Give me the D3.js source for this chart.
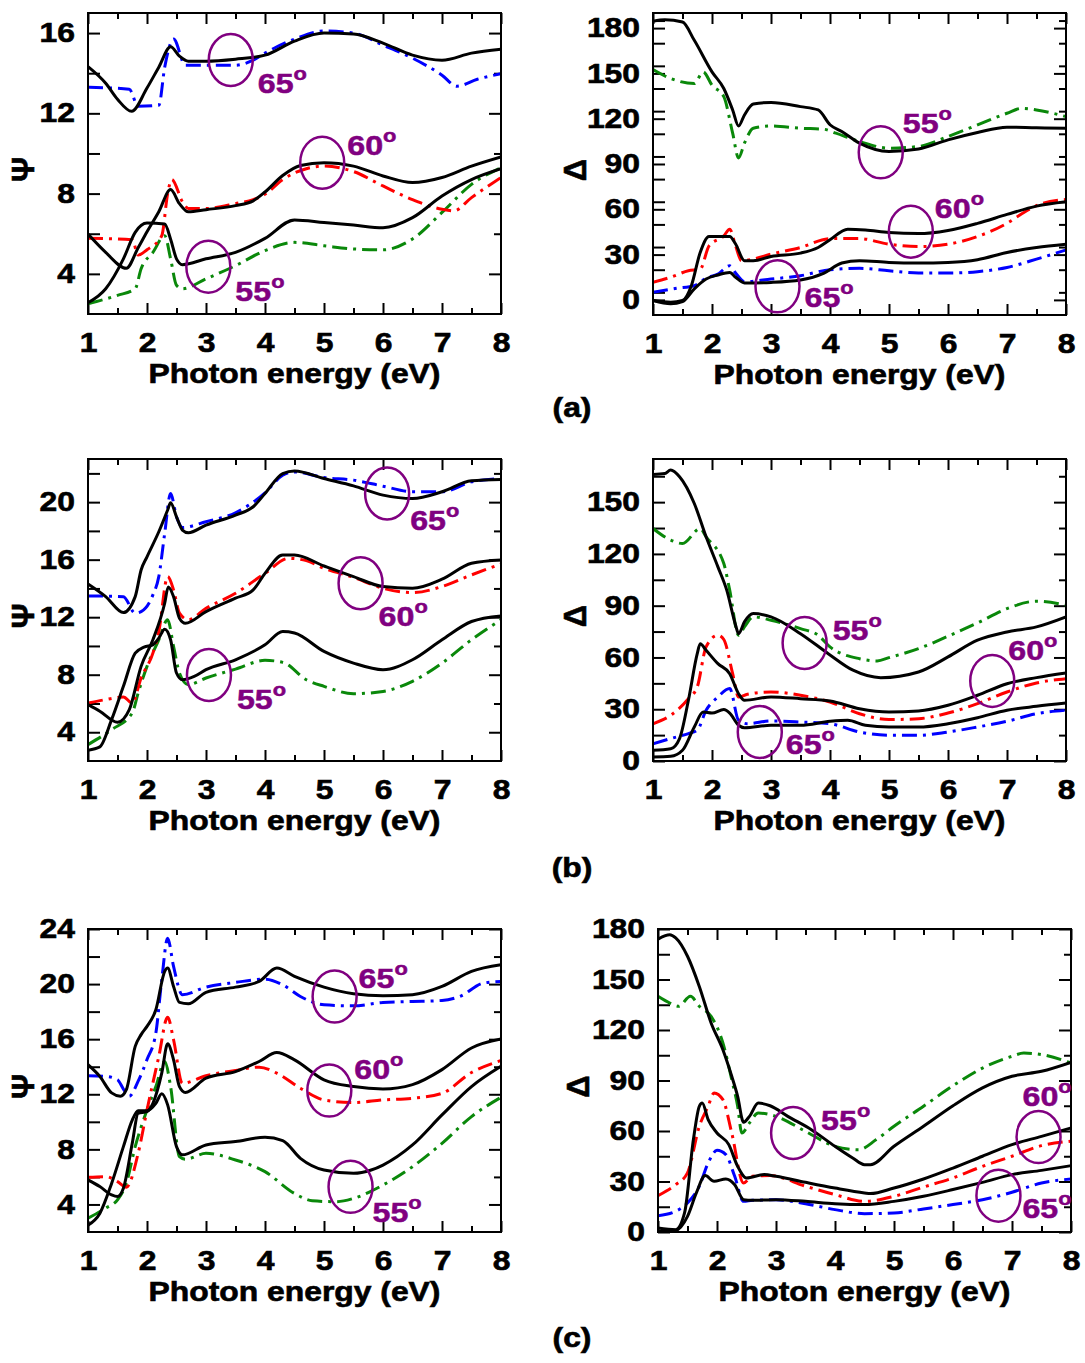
<!DOCTYPE html>
<html>
<head>
  <title>Ellipsometry Psi and Delta spectra</title>
  <script src="https://d3js.org/d3.v7.min.js"></script>
  <style>
    body { margin: 0; background: #fff; }
    text { font-family: "Liberation Sans", Arial, sans-serif; font-weight: bold; }
  </style>
</head>
<body>

<div id="chart"></div>

<script>
// Photon energy axis
const energyTicks = [1, 2, 3, 4, 5, 6, 7, 8];
const energyMinor = [1.5, 2.5, 3.5, 4.5, 5.5, 6.5, 7.5];

// y tick labels
const psiTicksA = [4, 8, 12, 16];
const psiTicksB = [4, 8, 12, 16, 20];
const psiTicksC = [4, 8, 12, 16, 20, 24];
const deltaTicksA = [0, 30, 60, 90, 120, 150, 180];
const deltaTicksB = [0, 30, 60, 90, 120, 150];
const deltaTicksC = [0, 30, 60, 90, 120, 150, 180];

// ---- (a) Psi, [energy eV, degrees]
const psiA_meas65 = [[1,14.33],[1.3,13.5],[1.5,12.7],[1.74,12.1],[2,13.26],[2.2,14.3],[2.4,15.32],[2.55,14.85],[2.7,14.6],[3,14.6],[3.5,14.7],[4,14.9],[4.5,15.6],[5,16.0],[5.5,15.95],[6,15.5],[6.5,14.9],[7,14.65],[7.5,15.0],[8,15.2]];
const psiA_fit65 = [[1,13.3],[1.7,13.2],[1.85,12.35],[2.2,12.4],[2.3,14.3],[2.45,15.7],[2.65,14.4],[3.5,14.4],[3.8,14.65],[4,15.0],[4.5,15.7],[5,16.1],[5.5,16.0],[6,15.4],[6.5,14.75],[7,13.9],[7.25,13.35],[7.6,13.7],[8,13.97]];
const psiA_meas60 = [[1,5.98],[1.3,5.07],[1.65,4.28],[1.85,5.3],[2,6.1],[2.2,7.1],[2.4,8.2],[2.55,7.5],[2.7,7.09],[3,7.2],[3.5,7.4],[3.8,7.64],[4,8.08],[4.3,8.9],[4.6,9.4],[5,9.54],[5.5,9.37],[6,8.88],[6.5,8.55],[7,8.8],[7.5,9.37],[8,9.83]];
const psiA_fit60 = [[1,5.77],[1.75,5.7],[1.85,4.94],[2.0,5.2],[2.25,5.9],[2.35,8.0],[2.42,8.7],[2.6,7.6],[2.7,7.26],[3,7.26],[3.5,7.5],[3.8,7.7],[4,7.97],[4.3,8.7],[4.7,9.24],[5,9.37],[5.5,9.1],[6,8.38],[6.5,7.7],[7,7.22],[7.2,7.14],[7.5,7.8],[8,8.8]];
const psiA_meas55 = [[1,2.56],[1.3,3.26],[1.6,4.75],[1.8,6.07],[2.0,6.53],[2.3,6.48],[2.4,5.73],[2.5,4.75],[2.6,4.46],[3,4.75],[3.5,5.07],[4,5.77],[4.5,6.69],[5,6.56],[5.5,6.43],[6,6.3],[6.5,6.8],[7,7.88],[7.5,8.7],[8,9.24]];
const psiA_fit55 = [[1,2.51],[1.5,2.93],[1.8,3.26],[1.9,4.25],[2.1,5.07],[2.3,5.9],[2.4,4.75],[2.5,3.43],[2.6,3.26],[3,3.75],[3.5,4.41],[4,5.16],[4.5,5.57],[5,5.4],[5.5,5.24],[6,5.2],[6.5,5.74],[7,7.06],[7.5,8.46],[8,9.29]];

// ---- (a) Delta
const delA_meas55 = [[1,184.6],[1.2,185.5],[1.5,184],[1.7,171.9],[2,151],[2.2,140],[2.35,125.8],[2.45,115.2],[2.55,122.5],[2.7,129.7],[3,130.8],[3.5,128],[3.8,125.8],[4,116],[4.2,111.5],[4.5,103.8],[5,98.3],[5.5,99.9],[6,106],[6.5,110.9],[7,114.4],[7.5,114],[8,113.7]];
const delA_fit55 = [[1,152.6],[1.3,146.6],[1.7,143.3],[1.85,151],[2.0,142.2],[2.2,134.6],[2.35,110.4],[2.45,94],[2.55,103.8],[2.7,113.7],[3,115.2],[3.5,113.7],[3.9,113],[4.1,110.4],[4.5,104.9],[5,100.5],[5.5,101.6],[6,108.2],[6.5,115.9],[7,123.6],[7.25,126.9],[7.5,125.8],[8,121.4]];
const delA_meas60 = [[1,-0.4],[1.3,-1.5],[1.5,-0.4],[1.65,9.4],[1.8,31.4],[1.95,42],[2.3,42],[2.4,37],[2.55,26],[2.7,26],[3,28.8],[3.5,31],[3.8,34.7],[4,39.8],[4.3,46.8],[4.6,46.3],[5,44.6],[5.5,43.9],[6,46],[6.5,50.7],[7,56.6],[7.5,62.1],[8,65]];
const delA_fit60 = [[1,11.6],[1.3,15],[1.6,19.3],[1.8,20.4],[1.95,35.8],[2.2,42.4],[2.3,46.8],[2.4,35.8],[2.5,26],[2.7,27.1],[3,30.3],[3.5,34.7],[4,40.6],[4.5,40.6],[5,36.9],[5.5,35.3],[6,36.9],[6.5,42],[7,50.7],[7.3,58.2],[7.6,63.9],[8,66.5]];
const delA_meas65 = [[1,-0.4],[1.3,-2.6],[1.5,-1.1],[1.7,7.3],[1.9,13.8],[2.1,16.5],[2.3,18.2],[2.4,15],[2.55,11.2],[3,11.6],[3.5,13.2],[3.9,17.8],[4.2,24.4],[4.5,26],[5,24.8],[5.5,24.4],[6,24.8],[6.5,26.6],[7,31.4],[7.5,34.7],[8,36.9]];
const delA_fit65 = [[1,5],[1.4,7.7],[1.7,9.4],[1.9,14.3],[2.1,17.1],[2.3,22.6],[2.4,17.8],[2.55,12.1],[3,13.8],[3.5,16],[4,20],[4.5,20.9],[5,19.3],[5.5,17.8],[6,17.8],[6.5,18.7],[7,21.5],[7.5,27],[8,33.1]];

// ---- (b) Psi
const psiB_meas65 = [[1,14.31],[1.3,13.43],[1.6,12.32],[1.8,13.43],[1.9,15.28],[2.0,16.2],[2.2,17.94],[2.35,19.45],[2.4,19.95],[2.5,18.98],[2.6,18.06],[2.7,17.87],[3,18.4],[3.5,19.1],[3.8,19.68],[4,20.6],[4.3,21.99],[4.5,22.17],[5,21.64],[5.5,21.13],[6,20.49],[6.5,20.25],[7,20.72],[7.5,21.48],[8,21.57]];
const psiB_fit65 = [[1,13.48],[1.6,13.43],[1.8,12.28],[1.9,12.39],[2.1,13.55],[2.2,14.82],[2.3,17.83],[2.4,20.6],[2.5,18.98],[2.6,18.24],[3,18.64],[3.5,19.26],[4,20.65],[4.3,21.87],[4.5,22.1],[5,21.71],[5.5,21.53],[6,21.11],[6.5,20.72],[7,20.72],[7.5,21.41],[8,21.64]];
const psiB_meas60 = [[1,5.92],[1.2,5.46],[1.5,4.69],[1.7,5.57],[1.9,8.58],[2.1,10.43],[2.3,12.97],[2.36,14.1],[2.45,13.43],[2.55,11.93],[2.65,11.58],[3,12.39],[3.5,13.32],[3.8,13.9],[4,15.05],[4.3,16.32],[4.5,16.32],[5,15.56],[5.5,14.82],[6,14.13],[6.5,14.01],[7,14.64],[7.5,15.75],[8,15.98]];
const psiB_fit60 = [[1,6.03],[1.3,6.27],[1.6,6.45],[1.75,6.03],[1.9,7.77],[2.1,9.5],[2.2,11.0],[2.35,14.82],[2.45,13.9],[2.55,12.28],[2.7,11.82],[3,12.62],[3.5,13.66],[4,15.05],[4.4,16.09],[4.7,15.93],[5,15.4],[5.5,14.77],[6,14.01],[6.5,13.71],[7,14.13],[7.5,14.94],[8,15.7]];
const psiB_meas55 = [[1,2.75],[1.2,2.98],[1.4,4.88],[1.6,7.19],[1.8,9.5],[1.95,9.92],[2.1,10.08],[2.2,10.54],[2.3,11.17],[2.4,10.43],[2.5,8.12],[2.6,7.65],[2.8,7.88],[3,8.35],[3.5,9.04],[4,10.08],[4.3,11.0],[4.5,10.9],[5,9.62],[5.5,8.81],[6,8.35],[6.5,9.04],[7,10.43],[7.5,11.7],[8,12.09]];
const psiB_fit55 = [[1,3.14],[1.4,4.18],[1.75,5.34],[1.85,6.73],[2.0,8.58],[2.2,10.43],[2.35,11.82],[2.45,9.97],[2.55,8.12],[2.7,7.31],[3,7.77],[3.5,8.39],[4,9.0],[4.3,8.86],[4.7,7.65],[5,7.19],[5.5,6.68],[6,6.84],[6.5,7.54],[7,8.81],[7.5,10.43],[8,11.82]];

// ---- (b) Delta
const delB_meas55 = [[1,166],[1.2,166.6],[1.3,168.6],[1.45,164.7],[1.7,149.2],[1.9,129.9],[2.1,112.5],[2.25,99],[2.4,78.7],[2.45,73.8],[2.55,80.6],[2.7,85.4],[3,83.5],[3.5,73.8],[3.97,62.2],[4.39,52.6],[4.86,48.3],[5.5,51.6],[6,60.3],[6.5,70],[7,74.8],[7.5,77.7],[8,83.5]];
const delB_fit55 = [[1,134.7],[1.3,128],[1.5,126],[1.8,134.7],[1.9,129.9],[2.2,114.4],[2.3,99],[2.45,72.9],[2.55,77.7],[2.7,83.5],[3,81.6],[3.5,76.7],[3.8,72.9],[4,66.1],[4.5,59.3],[4.8,58],[5,59.9],[5.5,65.1],[6,72.3],[6.5,80],[7,88.3],[7.5,92.6],[8,90.3]];
const delB_meas60 = [[1,6.2],[1.3,7.1],[1.45,13],[1.6,35.2],[1.75,62.2],[1.8,68],[1.9,64.2],[2.1,56.4],[2.3,50.6],[2.45,39],[2.55,35.2],[3,37.1],[3.5,36.1],[4,34.8],[4.5,30.3],[5,28.4],[5.5,29],[6,32.3],[6.5,38.1],[7,44.8],[7.5,48.3],[8,51]];
const delB_fit60 = [[1,21.6],[1.3,26.5],[1.6,36.1],[1.75,42.9],[1.9,66.1],[2.1,72.9],[2.2,70.4],[2.35,50.6],[2.45,37.1],[2.6,38.7],[3,40],[3.5,38.1],[4,34.2],[4.5,27.4],[5,24],[5.5,24.5],[6,27.8],[6.5,33.2],[7,40],[7.5,45.2],[8,47.7]];
const delB_meas65 = [[1,2.3],[1.3,2.7],[1.5,6.2],[1.7,19.7],[1.85,28.4],[2.0,27.8],[2.2,29.8],[2.3,27.8],[2.45,20.7],[2.55,19.3],[3,20.7],[3.5,20.7],[4,23],[4.3,23.6],[4.6,20.7],[5,19.7],[5.5,19.7],[6,21.6],[6.5,25.1],[7,29.4],[7.5,31.7],[8,33.6]];
const delB_fit65 = [[1,10],[1.3,13],[1.6,15.9],[1.75,17.8],[1.9,29.4],[2.1,37.1],[2.3,42],[2.45,23.6],[2.6,21.6],[3,23.2],[3.5,22.6],[4,21.6],[4.5,16.8],[5,14.9],[5.5,14.9],[6,16.8],[6.5,19.7],[7,23],[7.5,27.4],[8,29.4]];

// ---- (c) Psi
const psiC_meas65 = [[1,14.15],[1.2,13.3],[1.4,12.1],[1.55,11.86],[1.65,12.34],[1.8,15.48],[1.9,16.33],[2.0,16.93],[2.15,18.14],[2.3,20.92],[2.35,21.16],[2.45,19.83],[2.55,18.67],[2.7,18.57],[3,19.4],[3.5,19.78],[3.9,20.19],[4.2,21.16],[4.5,20.56],[5,19.78],[5.5,19.3],[6,19.15],[6.5,19.23],[7,19.83],[7.5,20.92],[8,21.4]];
const psiC_fit65 = [[1,13.35],[1.3,13.3],[1.5,13.06],[1.6,12.38],[1.7,11.86],[1.85,12.95],[2.0,14.52],[2.15,16.45],[2.25,20.31],[2.35,23.33],[2.45,21.28],[2.6,19.23],[3,19.78],[3.5,20.12],[4,20.36],[4.3,19.95],[4.6,19.1],[5,18.5],[5.5,18.42],[6,18.67],[6.5,18.74],[7,18.81],[7.3,19.1],[7.7,20.07],[8,20.19]];
const psiC_meas60 = [[1,5.78],[1.2,5.3],[1.4,4.7],[1.5,4.58],[1.6,5.18],[1.75,8.44],[1.85,10.62],[2.0,10.74],[2.1,11.34],[2.25,13.53],[2.35,15.66],[2.45,14.5],[2.55,12.56],[2.65,12.13],[3,13.17],[3.5,13.65],[3.9,14.38],[4.2,15.03],[4.5,14.5],[5,13.05],[5.5,12.56],[6,12.38],[6.5,12.7],[7,13.79],[7.5,15.36],[8,16.01]];
const psiC_fit60 = [[1,5.97],[1.3,6.02],[1.5,5.66],[1.65,5.25],[1.85,7.71],[2.0,10.86],[2.2,14.74],[2.35,17.6],[2.45,15.96],[2.6,12.8],[3,13.35],[3.5,13.73],[3.9,13.97],[4.2,13.53],[4.6,12.44],[5,11.59],[5.5,11.4],[6,11.59],[6.5,11.71],[7,12.07],[7.5,13.58],[8,14.45]];
const psiC_meas55 = [[1,2.5],[1.2,3.35],[1.4,5.53],[1.6,8.2],[1.75,10.13],[1.85,10.81],[2.0,10.81],[2.15,11.35],[2.25,12.03],[2.35,11.23],[2.5,8.2],[2.6,7.6],[3,8.32],[3.5,8.57],[4,8.88],[4.3,8.64],[4.6,7.35],[5,6.5],[5.5,6.26],[5.8,6.5],[6,6.86],[6.5,8.32],[7,10.5],[7.5,12.56],[8,14.03]];
const psiC_fit55 = [[1,3.0],[1.3,3.73],[1.5,4.34],[1.65,5.55],[1.8,8.2],[2.0,10.86],[2.15,12.56],[2.3,14.38],[2.4,12.56],[2.55,7.47],[2.65,7.28],[3,7.71],[3.5,7.23],[4,6.38],[4.5,4.8],[4.8,4.27],[5.2,4.2],[5.5,4.44],[6,5.41],[6.5,6.74],[7,8.44],[7.5,10.38],[8,11.78]];

// ---- (c) Delta
const delC_meas55 = [[1,174],[1.2,176.6],[1.3,174.7],[1.5,163.8],[1.7,145.9],[1.9,124.2],[2.1,108.3],[2.25,92.5],[2.35,80.6],[2.45,65.2],[2.55,68.7],[2.7,76.6],[2.9,75],[3.2,68.7],[3.6,60.8],[4,50.9],[4.3,44],[4.5,40],[4.6,40],[5,50.9],[5.5,62.8],[6,75],[6.5,85.6],[7,92.5],[7.5,95.5],[8,100.8]];
const delC_fit55 = [[1,140],[1.2,136],[1.35,134.1],[1.55,140],[1.7,134.1],[1.9,128.1],[2.1,112.3],[2.25,90.5],[2.35,74.7],[2.42,58.8],[2.55,64.8],[2.7,70.7],[3,68.7],[3.5,59.8],[4,50.9],[4.4,48.9],[4.7,54.9],[5,62.8],[5.5,74.7],[6,86.9],[6.5,97.4],[7,104.4],[7.2,106.3],[7.5,105.4],[8,100.4]];
const delC_meas60 = [[1,2.4],[1.3,1.4],[1.45,11.3],[1.6,54.9],[1.7,74.7],[1.75,76.6],[1.85,66.7],[2.0,58.8],[2.2,51.9],[2.35,39],[2.5,32.1],[2.8,34.1],[3,33.1],[3.5,29.5],[4,26.1],[4.5,23.2],[4.6,22.8],[5,26.1],[5.5,31.5],[6,38],[6.5,45],[7,51.9],[7.5,56.8],[8,61.8]];
const delC_fit60 = [[1,21.6],[1.3,28.1],[1.5,35.1],[1.7,62.8],[1.85,74.7],[1.95,82.6],[2.1,78.6],[2.25,58.8],[2.45,29.1],[2.6,33.1],[2.9,33.5],[3.5,27.2],[4,22.2],[4.5,18.2],[5,21.2],[5.5,26.7],[6,32.1],[6.5,39],[7,45],[7.5,51.3],[8,53.9]];
const delC_meas65 = [[1,0.4],[1.3,1],[1.5,9.3],[1.65,23.2],[1.8,33.5],[1.95,30.1],[2.15,31.5],[2.3,28.1],[2.45,19.2],[2.6,18.8],[3,19.2],[3.5,18.2],[4,16.8],[4.5,16.3],[5,18.2],[5.5,21.2],[6,25.2],[6.5,29.5],[7,34.1],[7.5,36.6],[8,39.4]];
const delC_fit65 = [[1,9.7],[1.3,12.3],[1.5,17.2],[1.7,27.2],[1.85,41],[2.0,48.5],[2.15,46],[2.3,33.1],[2.45,18.2],[2.6,18.8],[3,19.2],[3.5,16.8],[4,13.3],[4.5,10.9],[5,11.3],[5.5,13.7],[6,16.3],[6.5,19.2],[7,23.6],[7.5,29.1],[8,31.5]];

// angle markers: [angle, energy, value]
const marksPsiA = [[65, 3.42, 14.66], [60, 4.97, 9.54], [55, 3.04, 4.36]];
const marksDelA = [[55, 4.86, 97.7], [60, 5.37, 45.2], [65, 3.11, 9.0]];
const marksPsiB = [[65, 6.07, 20.6], [60, 5.62, 14.36], [55, 3.05, 7.98]];
const marksDelB = [[55, 3.57, 68.4], [60, 6.75, 46.4], [65, 2.81, 16.8]];
const marksPsiC = [[65, 5.18, 19.1], [60, 5.09, 12.27], [55, 5.45, 5.28]];
const marksDelC = [[55, 3.29, 58.8], [60, 7.45, 56.4], [65, 6.77, 21.6]];

const W = 1085, H = 1363;
const SX = 1.18;           // horizontal stretch of the original lettering
const purple = "#800080";
const fitColor = { 55: "#0a880a", 60: "#ff0000", 65: "#0000ff" };

// panel layout (box in pixels) + label offsets of the angle tags
const panels = [
  { box: [88, 501, 13, 314], yDomain: [2, 17], ticks: psiTicksA, minorStep: 2, sym: "\u03A8", symX: 23,
    meas: [psiA_meas55, psiA_meas60, psiA_meas65], fit: [psiA_fit55, psiA_fit60, psiA_fit65],
    marks: marksPsiA, offs: [[27, 33], [25, -8], [27, 34]] },
  { box: [653, 1066, 13, 315], yDomain: [-10, 190], ticks: deltaTicksA, minorStep: 15, sym: "\u0394", symX: 575,
    meas: [delA_meas55, delA_meas60, delA_meas65], fit: [delA_fit55, delA_fit60, delA_fit65],
    marks: marksDelA, offs: [[22, -19], [24, -14], [27, 21]] },
  { box: [88, 501, 459, 761], yDomain: [2, 23], ticks: psiTicksB, minorStep: 2, sym: "\u03A8", symX: 23,
    meas: [psiB_meas55, psiB_meas60, psiB_meas65], fit: [psiB_fit55, psiB_fit60, psiB_fit65],
    marks: marksPsiB, offs: [[23, 36], [18, 43], [28, 34]] },
  { box: [653, 1066, 459, 761], yDomain: [0, 175], ticks: deltaTicksB, minorStep: 15, sym: "\u0394", symX: 575,
    meas: [delB_meas55, delB_meas60, delB_meas65], fit: [delB_fit55, delB_fit60, delB_fit65],
    marks: marksDelB, offs: [[28, -3], [16, -21], [26, 22]] },
  { box: [88, 501, 929, 1232], yDomain: [2, 24], ticks: psiTicksC, minorStep: 2, sym: "\u03A8", symX: 23,
    meas: [psiC_meas55, psiC_meas60, psiC_meas65], fit: [psiC_fit55, psiC_fit60, psiC_fit65],
    marks: marksPsiC, offs: [[24, -8], [25, -12], [22, 35]] },
  { box: [658, 1071, 929, 1232], yDomain: [0, 180], ticks: deltaTicksC, minorStep: 15, sym: "\u0394", symX: 578,
    meas: [delC_meas55, delC_meas60, delC_meas65], fit: [delC_fit55, delC_fit60, delC_fit65],
    marks: marksDelC, offs: [[28, -3], [-16, -31], [24, 22]] }
];
const angles = [55, 60, 65];

const svg = d3.select("#chart").append("svg")
  .attr("width", W).attr("height", H);
svg.append("rect").attr("width", W).attr("height", H).attr("fill", "#fff");

function label(g, x, y, str, size, anchor) {
  return g.append("text")
    .attr("transform", `translate(${x},${y}) scale(${SX},1)`)
    .attr("text-anchor", anchor || "middle")
    .attr("font-size", size)
    .attr("stroke", "#000").attr("stroke-width", 0.6)
    .text(str);
}

panels.forEach((p, i) => {
  const [x0, x1, y0, y1] = p.box;
  const x = d3.scaleLinear().domain([1, 8]).range([x0, x1]);
  const y = d3.scaleLinear().domain(p.yDomain).range([y1, y0]);
  const g = svg.append("g");

  const clipId = "clip" + i;
  g.append("clipPath").attr("id", clipId)
    .append("rect").attr("x", x0).attr("y", y0).attr("width", x1 - x0).attr("height", y1 - y0);

  const minor = d3.range(p.yDomain[0], p.yDomain[1] + 0.01, p.minorStep)
    .filter(v => v > p.yDomain[0] && !p.ticks.includes(v));

  const styleAxis = sel => {
    sel.select(".domain").remove();
    sel.selectAll("line").attr("stroke", "#000").attr("stroke-width", 2);
  };
  const styleLabels = sel => {
    sel.selectAll("text").attr("font-size", 27).attr("fill", "#000")
      .attr("stroke", "#000").attr("stroke-width", 0.6)
      .attr("font-family", "Liberation Sans, Arial, sans-serif")
      .attr("transform", `scale(${SX},1)`);
  };

  // bottom axis with labels
  g.append("g").attr("transform", `translate(0,${y1})`)
    .call(d3.axisBottom(x).tickValues(energyTicks).tickFormat(d3.format("d"))
      .tickSizeInner(-11).tickSizeOuter(0).tickPadding(18.5))
    .call(styleAxis).call(styleLabels);
  g.append("g").attr("transform", `translate(0,${y1})`)
    .call(d3.axisBottom(x).tickValues(energyMinor).tickFormat("").tickSizeInner(-6).tickSizeOuter(0))
    .call(styleAxis);
  // top axis
  g.append("g").attr("transform", `translate(0,${y0})`)
    .call(d3.axisTop(x).tickValues(energyTicks).tickFormat("").tickSizeInner(-11).tickSizeOuter(0))
    .call(styleAxis);
  g.append("g").attr("transform", `translate(0,${y0})`)
    .call(d3.axisTop(x).tickValues(energyMinor).tickFormat("").tickSizeInner(-6).tickSizeOuter(0))
    .call(styleAxis);

  // left axis with labels
  g.append("g").attr("transform", `translate(${x0},0)`)
    .call(d3.axisLeft(y).tickValues(p.ticks).tickFormat(d3.format("d"))
      .tickSizeInner(-12).tickSizeOuter(0).tickPadding(11))
    .call(styleAxis).call(styleLabels);
  g.append("g").attr("transform", `translate(${x0},0)`)
    .call(d3.axisLeft(y).tickValues(minor).tickFormat("").tickSizeInner(-12).tickSizeOuter(0))
    .call(styleAxis);
  // right axis
  g.append("g").attr("transform", `translate(${x1},0)`)
    .call(d3.axisRight(y).tickValues(p.ticks).tickFormat("").tickSizeInner(-12).tickSizeOuter(0))
    .call(styleAxis);
  g.append("g").attr("transform", `translate(${x1},0)`)
    .call(d3.axisRight(y).tickValues(minor).tickFormat("").tickSizeInner(-7).tickSizeOuter(0))
    .call(styleAxis);

  // curves
  const line = d3.line().x(d => x(d[0])).y(d => y(d[1])).curve(d3.curveMonotoneX);
  const plot = g.append("g").attr("clip-path", `url(#${clipId})`);
  p.fit.forEach((s, k) => {
    plot.append("path").datum(s).attr("d", line)
      .attr("fill", "none").attr("stroke", fitColor[angles[k]])
      .attr("stroke-width", 3).attr("stroke-dasharray", "15,6,3,6");
  });
  p.meas.forEach(s => {
    plot.append("path").datum(s).attr("d", line)
      .attr("fill", "none").attr("stroke", "#000")
      .attr("stroke-width", 3).attr("stroke-linejoin", "round");
  });

  // frame
  g.append("rect").attr("x", x0).attr("y", y0).attr("width", x1 - x0).attr("height", y1 - y0)
    .attr("fill", "none").attr("stroke", "#000").attr("stroke-width", 2);

  // angle ellipses and tags
  p.marks.forEach((m, k) => {
    const cx = x(m[1]), cy = y(m[2]);
    g.append("ellipse").attr("cx", cx).attr("cy", cy).attr("rx", 22).attr("ry", 26)
      .attr("fill", "none").attr("stroke", purple).attr("stroke-width", 2.5);
    const t = g.append("text")
      .attr("transform", `translate(${cx + p.offs[k][0]},${cy + p.offs[k][1]}) scale(1.15,1)`)
      .attr("fill", purple).attr("stroke", purple).attr("stroke-width", 0.5)
      .attr("font-size", 28);
    t.append("tspan").text(m[0]);
    t.append("tspan").attr("font-size", 19).attr("dy", -13).text("o");
  });

  // axis titles
  label(g, (x0 + x1) / 2, y1 + 69, "Photon energy (eV)", 27);
  g.append("text")
    .attr("transform", `translate(${p.symX},${(y0 + y1) / 2 + 6}) rotate(-90)`)
    .attr("text-anchor", "middle").attr("dominant-baseline", "central")
    .attr("stroke", "#000").attr("stroke-width", 0.6)
    .attr("font-size", 31).text(p.sym);
});

// sub-figure letters
label(svg, 572, 417, "(a)", 27);
label(svg, 572, 877, "(b)", 27);
label(svg, 572, 1347, "(c)", 27);
</script>

</body>
</html>
